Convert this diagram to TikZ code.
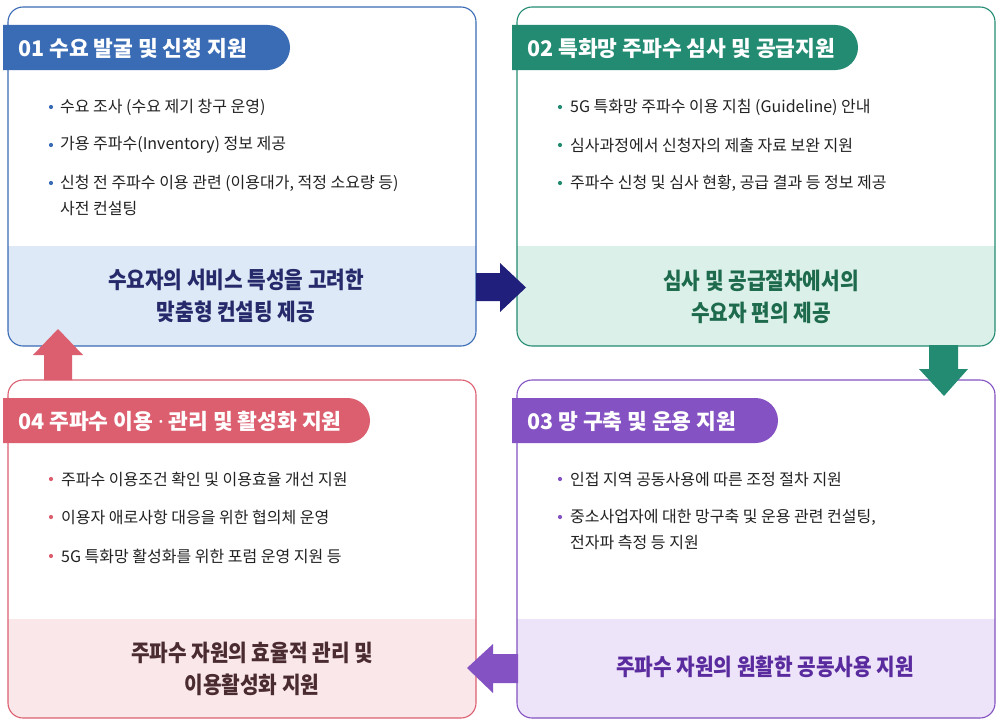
\documentclass[tikz,border=0pt]{standalone}
\usepackage{fontspec}
\setmainfont{Noto Sans CJK KR}
\newfontfamily\condfont[FakeStretch=0.88]{Noto Sans CJK KR}
\newfontfamily\latinfont{Noto Sans}
\usetikzlibrary{calc}
\definecolor{cA}{HTML}{3A6BB5}
\definecolor{cAbg}{HTML}{DDE9F6}
\definecolor{cAt}{HTML}{262A6B}
\definecolor{cB}{HTML}{238B72}
\definecolor{cBbg}{HTML}{DCF0EA}
\definecolor{cBt}{HTML}{1D6A4D}
\definecolor{cC}{HTML}{8452C2}
\definecolor{cCbg}{HTML}{EEE4F9}
\definecolor{cCt}{HTML}{5A2B9E}
\definecolor{cD}{HTML}{DC5F70}
\definecolor{cDbg}{HTML}{F9E7EA}
\definecolor{cDt}{HTML}{4A2B30}
\definecolor{navy}{HTML}{201F7B}
\definecolor{txt}{HTML}{222222}
\tikzset{
  boxframe/.style={draw=#1, line width=1.1pt, rounded corners=15pt, inner sep=0pt},
  tabtitle/.style={anchor=west, inner sep=0pt, text=white, font=\bfseries\fontsize{21.5}{26}\selectfont},
  bultext/.style={anchor=west, inner sep=0pt, text=txt, font=\fontsize{16}{20}\selectfont},
  bottomtext/.style={align=center, inner sep=0pt, text=#1, font=\condfont\bfseries\fontsize{23}{32}\selectfont},
}
\newcommand{\cardbox}[8]{%
  % #1 name, #2 x1, #3 y1, #4 x2, #5 y2, #6 colour, #7 fill start y, #8 tab right x
  \begin{scope}
    \clip (#2,#7) rectangle (#4,#5);
    \fill[#6bg, rounded corners=15pt] (#2,#3) rectangle (#4,#5);
  \end{scope}
  \node[boxframe=#6, minimum width={(#4-#2)*1pt}, minimum height={(#5-#3)*1pt}] (#1) at ({(#2+#4)/2},{(#3+#5)/2}) {};
  \fill[#6] ({#2-5},{#3+18}) -- ({#8-22.5},{#3+18}) arc[start angle=-90, end angle=90, radius=22.5] -- ({#2-5},{#3+63}) -- cycle;
}
\begin{document}
\begin{tikzpicture}[x=1pt,y=-1pt]
\useasboundingbox (0,0) rectangle (1000,725);
\fill[white] (0,0) rectangle (1000,725);

% ---------- card 1 ----------
\cardbox{b1}{8}{7}{476}{346}{cA}{246}{290}
\node[tabtitle] (t1) at (18,48) {01 수요 발굴 및 신청 지원};
\foreach \yy/\nm/\tx in {107/a1/{수요 조사 (수요 제기 창구 운영)},145/a2/{가용 주파수(Inventory) 정보 제공},183/a3/{신청 전 주파수 이용 관련 (이용대가, 적정 소요량 등)}}{
  \fill[cA] (51,\yy) circle (2.1);
  \node[bultext] (\nm) at (60,\yy) {\tx};
}
\node[bultext] (a4) at (60,209) {사전 컨설팅};
\node[bottomtext=cAt] (s1) at (236,296) {수요자의 서비스 특성을 고려한\\맞춤형 컨설팅 제공};

% ---------- card 2 ----------
\cardbox{b2}{517}{7}{995}{346}{cB}{246}{858}
\node[tabtitle] (t2) at (527,48) {02 특화망 주파수 심사 및 공급지원};
\foreach \yy/\nm/\tx in {107/c1/{5G 특화망 주파수 이용 지침 (Guideline) 안내},145/c2/{심사과정에서 신청자의 제출 자료 보완 지원},183/c3/{주파수 신청 및 심사 현황, 공급 결과 등 정보 제공}}{
  \fill[cB] (560,\yy) circle (2.1);
  \node[bultext] (\nm) at (570,\yy) {\tx};
}
\node[bottomtext=cBt] (s2) at (761,297) {심사 및 공급절차에서의\\수요자 편의 제공};

% ---------- card 3 ----------
\cardbox{b3}{517}{380}{995}{718}{cC}{619}{778}
\node[tabtitle] (t3) at (527,421) {03 망 구축 및 운용 지원};
\foreach \yy/\nm/\tx in {479/e1/{인접 지역 공동사용에 따른 조정 절차 지원},517/e2/{중소사업자에 대한 망구축 및 운용 관련 컨설팅,}}{
  \fill[cC] (560,\yy) circle (2.1);
  \node[bultext] (\nm) at (570,\yy) {\tx};
}
\node[bultext] (e3) at (570,542) {전자파 측정 등 지원};
\node[bottomtext=cCt] (s3) at (765,667) {주파수 자원의 원활한 공동사용 지원};

% ---------- card 4 ----------
\cardbox{b4}{8}{380}{476}{718}{cD}{619}{370}
\node[tabtitle] (t4) at (18,421) {04 주파수 이용 {\latinfont\mdseries ·} 관리 및 활성화 지원};
\foreach \yy/\nm/\tx in {479/d1/{주파수 이용조건 확인 및 이용효율 개선 지원},517/d2/{이용자 애로사항 대응을 위한 협의체 운영},556/d3/{5G 특화망 활성화를 위한 포럼 운영 지원 등}}{
  \fill[cD] (51,\yy) circle (2.1);
  \node[bultext] (\nm) at (61,\yy) {\tx};
}
\node[bottomtext=cDt] (s4) at (252,669) {주파수 자원의 효율적 관리 및\\이용활성화 지원};

% ---------- block arrows ----------
% 1 -> 2
\fill[navy] (476,273) -- (500,273) -- (500,263) -- (526,287.5) -- (500,312) -- (500,301) -- (476,301) -- cycle;
% 2 -> 3
\fill[cB] (929,345) -- (958,345) -- (958,369) -- (968,369) -- (944,396) -- (919,369) -- (929,369) -- cycle;
% 3 -> 4
\fill[cC] (518,654) -- (493,654) -- (493,644) -- (467,668) -- (493,693) -- (493,683) -- (518,683) -- cycle;
% 4 -> 1
\fill[cD] (44,380) -- (44,355) -- (33,355) -- (58,329) -- (83,355) -- (72,355) -- (72,380) -- cycle;
\end{tikzpicture}
\end{document}
